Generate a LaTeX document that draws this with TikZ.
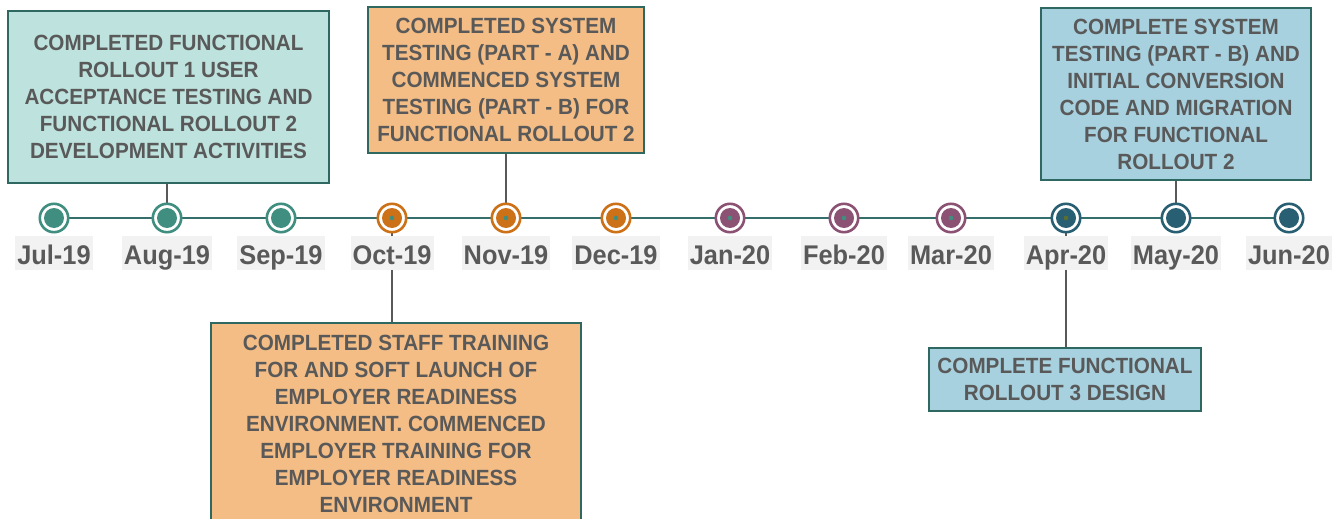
\documentclass[tikz,border=0pt]{standalone}
\usepackage{fontspec}
\setmainfont{Liberation Sans}[FakeStretch=0.94]
\usetikzlibrary{backgrounds}

\definecolor{txt}{HTML}{595959}
\definecolor{lbl}{HTML}{F2F2F2}
\definecolor{bord}{HTML}{2F6860}
\definecolor{cteal}{HTML}{3F8E80}
\definecolor{corange}{HTML}{CC7117}
\definecolor{cpurple}{HTML}{8C5274}
\definecolor{cblue}{HTML}{285F73}
\definecolor{colive}{HTML}{5C6E2E}
\definecolor{fteal}{HTML}{BEE2DD}
\definecolor{forange}{HTML}{F3BD85}
\definecolor{fblue}{HTML}{A8D1DF}
\definecolor{tline}{HTML}{356F6C}

\tikzset{
  mk/.style 2 args={circle, minimum size=28.4pt, inner sep=0pt, line width=2.6pt,
    draw=#1, fill=white,
    path picture={\fill[#1] (path picture bounding box.center) circle (10pt);
                  \fill[#2] (path picture bounding box.center) circle (2.3pt);}},
  month/.style={fill=lbl, text=txt, font=\fontsize{27}{30}\selectfont\bfseries,
    inner xsep=2pt, inner ysep=4pt, text height=24pt, text depth=2pt},
  note/.style={draw=bord, line width=1.5pt, text=txt, align=center, inner sep=0pt,
    font=\fontsize{22}{27}\selectfont\bfseries},
  tl/.style={draw=tline, line width=2.5pt},
  conn/.style={draw=txt, line width=2pt},
}

\begin{document}
\begin{tikzpicture}[x=1pt,y=-1pt]
\useasboundingbox (0,0) rectangle (1343,519);

% timeline markers
\node[mk={cteal}{cteal}]     (m1)  at (54,218)   {};
\node[mk={cteal}{cteal}]     (m2)  at (167,218)  {};
\node[mk={cteal}{cteal}]     (m3)  at (281,218)  {};
\node[mk={corange}{cteal}]   (m4)  at (392,218)  {};
\node[mk={corange}{cteal}]   (m5)  at (506,218)  {};
\node[mk={corange}{cteal}]   (m6)  at (616,218)  {};
\node[mk={cpurple}{cteal}]   (m7)  at (730,218)  {};
\node[mk={cpurple}{cteal}]   (m8)  at (844,218)  {};
\node[mk={cpurple}{cteal}]   (m9)  at (951,218)  {};
\node[mk={cblue}{colive}]    (m10) at (1066,218) {};
\node[mk={cblue}{cblue}]     (m11) at (1176,218) {};
\node[mk={cblue}{cblue}]     (m12) at (1289,218) {};

% month labels
\node[month] (l1)  at (54,253)   {Jul-19};
\node[month] (l2)  at (167,253)  {Aug-19};
\node[month] (l3)  at (281,253)  {Sep-19};
\node[month] (l4)  at (392,253)  {Oct-19};
\node[month] (l5)  at (506,253)  {Nov-19};
\node[month] (l6)  at (616,253)  {Dec-19};
\node[month] (l7)  at (730,253)  {Jan-20};
\node[month] (l8)  at (844,253)  {Feb-20};
\node[month] (l9)  at (951,253)  {Mar-20};
\node[month] (l10) at (1066,253) {Apr-20};
\node[month] (l11) at (1176,253) {May-20};
\node[month] (l12) at (1289,253) {Jun-20};

% milestone notes
\node[note, fill=fteal, minimum width=321pt, minimum height=172pt] (b1) at (168.5,97)
  {COMPLETED FUNCTIONAL\\ROLLOUT 1 USER\\ACCEPTANCE TESTING AND\\FUNCTIONAL ROLLOUT 2\\DEVELOPMENT ACTIVITIES};
\node[note, fill=forange, minimum width=276pt, minimum height=146pt] (b2) at (506,80)
  {COMPLETED SYSTEM\\TESTING (PART - A) AND\\COMMENCED SYSTEM\\TESTING (PART - B) FOR\\FUNCTIONAL ROLLOUT 2};
\node[note, fill=fblue, minimum width=270pt, minimum height=172pt] (b3) at (1176,94)
  {COMPLETE SYSTEM\\TESTING (PART - B) AND\\INITIAL CONVERSION\\CODE AND MIGRATION\\FOR FUNCTIONAL\\ROLLOUT 2};
\node[note, fill=forange, minimum width=370pt, minimum height=201pt] (b4) at (396,423.5)
  {COMPLETED STAFF TRAINING\\FOR AND SOFT LAUNCH OF\\EMPLOYER READINESS\\ENVIRONMENT. COMMENCED\\EMPLOYER TRAINING FOR\\EMPLOYER READINESS\\ENVIRONMENT};
\node[note, fill=fblue, minimum width=272pt, minimum height=63pt] (b5) at (1065,379.5)
  {COMPLETE FUNCTIONAL\\ROLLOUT 3 DESIGN};

% axis and leader lines behind everything
\begin{scope}[on background layer]
  \draw[tl] (m1.center) -- (m12.center);
  \draw[conn] (b1.south -| m2) -- (m2.center);
  \draw[conn] (b2.south -| m5) -- (m5.center);
  \draw[conn] (b3.south -| m11) -- (m11.center);
  \draw[conn] (m4.center) -- (b4.north -| m4);
  \draw[conn] (m10.center) -- (b5.north -| m10);
\end{scope}
\end{tikzpicture}
\end{document}
